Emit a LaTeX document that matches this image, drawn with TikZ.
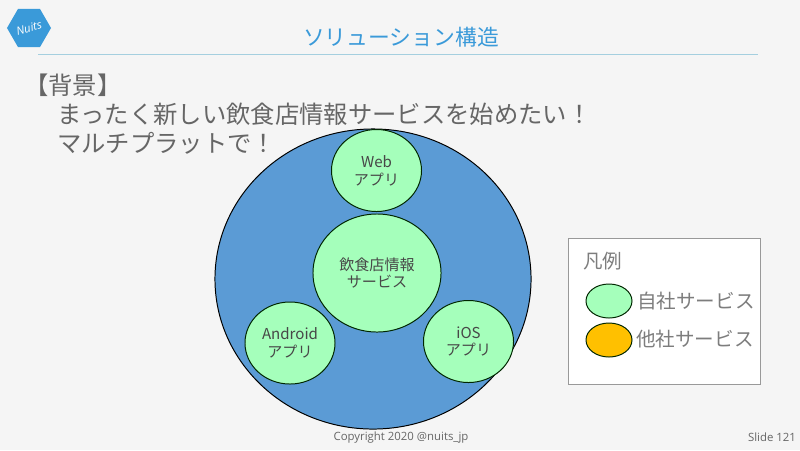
\documentclass[tikz,border=0pt]{standalone}
\usepackage{fontspec}
\setmainfont{Noto Sans CJK JP}
\newfontfamily\latinfont{Open Sans}
\usetikzlibrary{shapes.geometric}
\definecolor{slidebg}{HTML}{F5F5F5}
\definecolor{slideblue}{HTML}{3A9AD9}
\definecolor{ruleblue}{HTML}{A5CFDF}
\definecolor{bodygray}{HTML}{666666}
\definecolor{outerblue}{HTML}{5B9BD5}
\definecolor{ownfill}{HTML}{A5FFBB}
\definecolor{otherfill}{HTML}{FFC000}
\tikzset{
	svc/.style={ellipse, draw=black!85!green, line width=0.7pt, fill=ownfill, inner sep=0pt, align=center},
	svctext/.style={font=\fontsize{10.7}{12.6}\selectfont, align=center, text=bodygray!70!black},
	bodytext/.style={anchor=west, inner sep=0pt, text=bodygray, font=\fontsize{17.3}{20}\selectfont},
	legendtext/.style={anchor=west, inner sep=0pt, text=bodygray!85, font=\fontsize{13.9}{16}\selectfont},
	foot/.style={inner sep=0pt, text=bodygray, font=\latinfont\fontsize{8.1}{9}\selectfont}
}
\begin{document}
\begin{tikzpicture}[x=0.025cm, y=-0.025cm]
	\fill[slidebg] (0,0) rectangle (800,450);
	\useasboundingbox (0,0) rectangle (800,450);

	% header
	\node[regular polygon, regular polygon sides=6, fill=slideblue, minimum size=1.1cm, inner sep=0pt] (logo) at (29,28) {};
	\node[text=white, rotate=15, inner sep=0pt, font=\latinfont\itshape\fontsize{8}{9}\selectfont] (logotext) at (29,28) {Nuits};
	\node[text=slideblue, inner sep=0pt, font=\fontsize{15.5}{18}\selectfont] (title) at (401,37) {ソリューション構造};
	\draw[ruleblue, line width=0.6pt] (38,54) -- (758,54);

	% body text
	\node[bodytext] (bg) at (24,85) {【背景】};
	\node[bodytext] (line1) at (57,114) {まったく新しい飲食店情報サービスを始めたい！};
	\node[bodytext] (line2) at (57,143) {マルチプラットで！};

	% services
	\node[ellipse, draw=black, line width=0.7pt, fill=outerblue, minimum width=7.9cm, minimum height=7.5cm, inner sep=0pt] (outer) at (373,279) {};
	\node[svc, minimum width=2.25cm, minimum height=2.05cm] (web) at (376.5,170.5) {};
	\node[svctext] at (web) {Web\\アプリ};
	\node[svc, minimum width=3.2cm, minimum height=2.95cm] (core) at (377,273) {};
	\node[svctext] at (core) {飲食店情報\\サービス};
	\node[svc, minimum width=2.25cm, minimum height=2.05cm] (android) at (290,343) {};
	\node[svctext] at (android) {Android\\アプリ};
	\node[svc, minimum width=2.25cm, minimum height=2.05cm] (ios) at (468.5,341.5) {};
	\node[svctext] at (ios) {iOS\\アプリ};

	% legend
	\draw[black!40, fill=white, line width=0.6pt] (568,238) rectangle (760,384);
	\node[legendtext] (legendtitle) at (583,261) {凡例};
	\node[svc, minimum width=1.15cm, minimum height=0.85cm] (ownkey) at (609,301) {};
	\node[legendtext] (ownlabel) at (637,301) {自社サービス};
	\node[svc, fill=otherfill, minimum width=1.15cm, minimum height=0.85cm] (otherkey) at (609,340) {};
	\node[legendtext] (otherlabel) at (636,339) {他社サービス};

	% footer
	\node[foot] (copyright) at (401,438) {Copyright 2020 @nuits\_jp};
	\node[foot] (slideno) at (772,437) {Slide 121};
\end{tikzpicture}
\end{document}
